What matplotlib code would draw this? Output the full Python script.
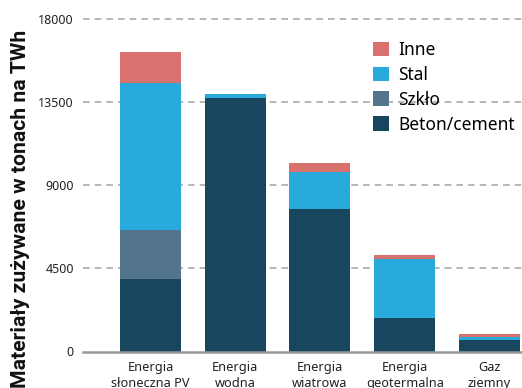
import matplotlib.pyplot as plt
import numpy as np

plt.rcParams['font.family'] = ['Noto Sans', 'DejaVu Sans']

# dane (tony na TWh)
zrodla = ['Energia\nsłoneczna PV', 'Energia\nwodna', 'Energia\nwiatrowa',
          'Energia\ngeotermalna', 'Gaz\nziemny']
beton = [3920, 13730, 7715, 1805, 610]
szklo = [2655, 0, 0, 0, 0]
stal = [7950, 215, 2005, 3195, 170]
inne = [1695, 0, 485, 220, 160]

kolory = {'Beton/cement': '#18465e', 'Szkło': '#52758c',
          'Stal': '#29aadc', 'Inne': '#d9716f'}

fig = plt.figure(figsize=(5.22, 3.88), dpi=100)
ax = fig.add_axes([83/522, 1 - 351.5/388, 1 - 83/522, (351.5 - 19.3)/388])

x = np.arange(len(zrodla))
w = 0.72
dol = np.zeros(len(zrodla))
for nazwa, wart in [('Beton/cement', beton), ('Szkło', szklo),
                    ('Stal', stal), ('Inne', inne)]:
    ax.bar(x, wart, w, bottom=dol, color=kolory[nazwa], label=nazwa, zorder=3)
    dol += np.array(wart)

ax.set_ylim(0, 18000)
ax.set_xlim(-0.796, 4.384)
ax.set_yticks([0, 4500, 9000, 13500, 18000])
ax.set_xticks(x)
ax.set_xticklabels(zrodla, fontsize=9.2, color='#222222', linespacing=1.3)
ax.tick_params(axis='y', length=0, pad=6.5, labelsize=9, labelcolor='#222222')
ax.tick_params(axis='x', length=0, pad=6.5)

for v in [4500, 9000, 13500, 18000]:
    ax.axhline(v, color='#aaaaaa', lw=1.2, ls=(0, (4, 3)), zorder=1, clip_on=False)
ax.axhline(0, color='#999999', lw=1.8, zorder=4, clip_on=False)

for s in ax.spines.values():
    s.set_visible(False)

h, l = ax.get_legend_handles_labels()
ax.legend(h[::-1], l[::-1], loc='upper left', bbox_to_anchor=(0.66, 0.935),
          frameon=False, fontsize=12.5, handlelength=0.92, handleheight=0.92,
          handletextpad=0.55, labelspacing=0.4, borderaxespad=0, borderpad=0)

# opis osi - dopasowanie rozmiaru do dlugosci ok. 357 px
t = fig.text(21/522, 1 - 30/388, 'Materiały zużywane w tonach na TWh', rotation=90,
             ha='center', va='top', fontsize=14.5, fontweight='bold', color='#111111',
             family=['Roboto', 'DejaVu Sans'])
r = fig.canvas.get_renderer()
dl = t.get_window_extent(r).height
t.set_fontsize(14.5 * 357 / dl)

fig.savefig('out.png', dpi=100)
